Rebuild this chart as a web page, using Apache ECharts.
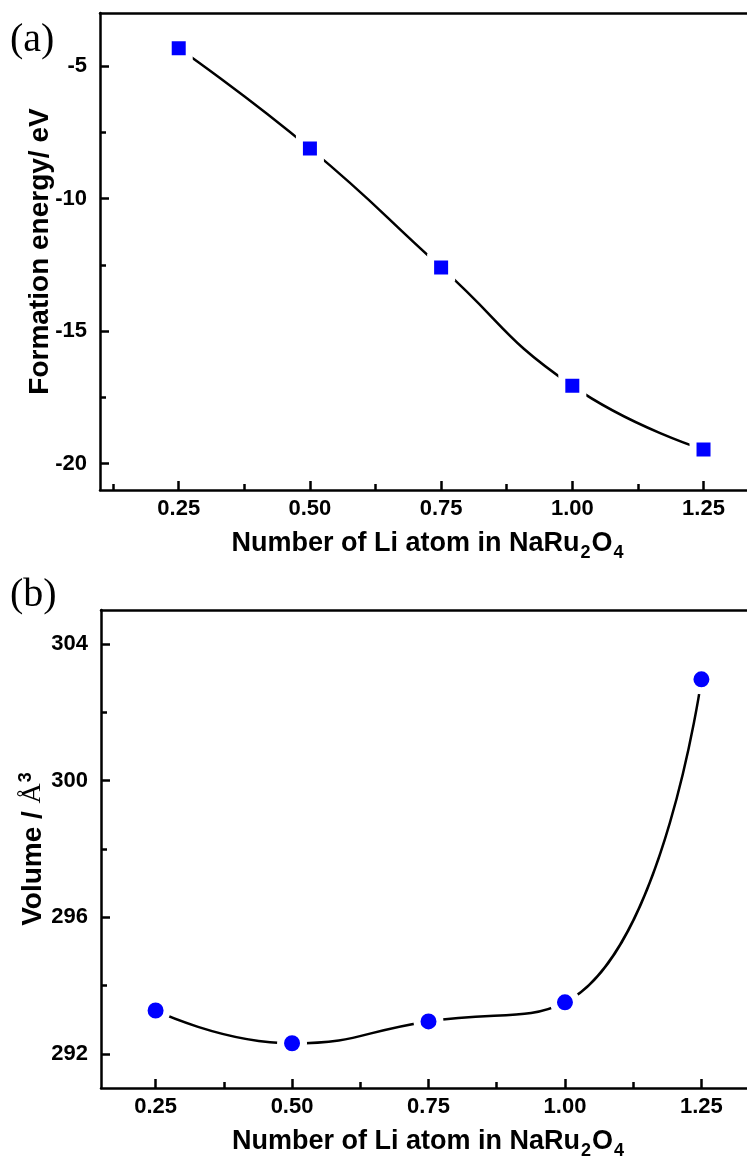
<!DOCTYPE html>
<html>
<head>
<meta charset="utf-8">
<script src="https://cdn.jsdelivr.net/npm/echarts@6/dist/echarts.min.js"></script>
<style>
html,body{margin:0;padding:0;background:#fff;overflow:hidden;}
#main{width:747px;height:1157px;}
</style>
</head>
<body>
<div id="main"></div>
<script>
// ---- data ----
const liAtoms = [0.25, 0.50, 0.75, 1.00, 1.25];
const formationEnergy = [-4.33, -8.11, -12.6, -17.07, -19.47];
const volume = [293.27, 292.31, 292.95, 293.51, 302.97];

const xMajorTicks = [0.25, 0.50, 0.75, 1.00, 1.25];
const xMinorTicksA = [0.125, 0.375, 0.625, 0.875, 1.125];
const xMinorTicksB = [0.375, 0.625, 0.875, 1.125];
const yMajorTicksA = [-20, -15, -10, -5];
const yMinorTicksA = [-17.5, -12.5, -7.5];
const yMajorTicksB = [292, 296, 300, 304];
const yMinorTicksB = [294, 298, 302];

const chart = echarts.init(document.getElementById('main'), null, {renderer: 'canvas'});

const FONT = '"Liberation Sans", Arial, sans-serif';
const SERIF = '"Liberation Serif", "Times New Roman", serif';
const LW = 2.5;

function mainX(gridIndex, min, max) {
  return {
    type: 'value', gridIndex: gridIndex, min: min, max: max, position: 'bottom',
    axisLine: {show: true, onZero: false, lineStyle: {color: '#000', width: LW}},
    axisTick: {show: true, inside: true, length: 9, customValues: xMajorTicks, lineStyle: {color: '#000', width: LW}},
    axisLabel: {show: true, margin: 8, customValues: xMajorTicks, formatter: v => v.toFixed(2),
      color: '#000', fontFamily: FONT, fontWeight: 'bold', fontSize: 22},
    splitLine: {show: false},
    name: '{a|Number of Li atom in NaRu}{s|2}{a|O}{s|4}',
    nameLocation: 'middle', nameGap: 36, nameMoveOverlap: false,
    nameTextStyle: {
      rich: {
        a: {fontFamily: FONT, fontSize: 27, color: '#000', fontWeight: 'bold'},
        s: {fontFamily: FONT, fontSize: 18, color: '#000', fontWeight: 'bold', padding: [18, 1, 0, 1]}
      }
    }
  };
}
function minorX(gridIndex, min, max, ticks) {
  return {
    type: 'value', gridIndex: gridIndex, min: min, max: max, position: 'bottom',
    axisLine: {show: false, onZero: false},
    axisTick: {show: true, inside: true, length: 6, customValues: ticks, lineStyle: {color: '#000', width: LW}},
    axisLabel: {show: false},
    splitLine: {show: false}
  };
}
function topX(gridIndex, min, max) {
  return {
    type: 'value', gridIndex: gridIndex, min: min, max: max, position: 'top',
    axisLine: {show: true, onZero: false, lineStyle: {color: '#000', width: LW}},
    axisTick: {show: false}, axisLabel: {show: false}, splitLine: {show: false}
  };
}
function mainY(gridIndex, min, max, ticks, name, rich, gap) {
  return {
    type: 'value', gridIndex: gridIndex, min: min, max: max, position: 'left',
    axisLine: {show: true, onZero: false, lineStyle: {color: '#000', width: LW}},
    axisTick: {show: true, inside: true, length: 9, customValues: ticks, lineStyle: {color: '#000', width: LW}},
    axisLabel: {show: true, margin: 13, customValues: ticks,
      color: '#000', fontFamily: FONT, fontWeight: 'bold', fontSize: 22},
    splitLine: {show: false},
    name: name, nameLocation: 'middle', nameGap: gap, nameRotate: 90, nameMoveOverlap: false,
    nameTextStyle: {rich: rich}
  };
}
function minorY(gridIndex, min, max, ticks) {
  return {
    type: 'value', gridIndex: gridIndex, min: min, max: max, position: 'left',
    axisLine: {show: false, onZero: false},
    axisTick: {show: true, inside: true, length: 6, customValues: ticks, lineStyle: {color: '#000', width: LW}},
    axisLabel: {show: false},
    splitLine: {show: false}
  };
}

const option = {
  backgroundColor: '#fff',
  animation: false,
  grid: [
    {left: 100, top: 13, width: 656, height: 477, outerBoundsMode: 'none', containLabel: false, show: false},
    {left: 101, top: 610, width: 655, height: 478, outerBoundsMode: 'none', containLabel: false, show: false}
  ],
  xAxis: [
    mainX(0, 0.1, 1.35),
    minorX(0, 0.1, 1.35, xMinorTicksA),
    mainX(1, 0.15, 1.35),
    minorX(1, 0.15, 1.35, xMinorTicksB),
    topX(0, 0.1, 1.35),
    topX(1, 0.15, 1.35)
  ],
  yAxis: [
    mainY(0, -21, -3, yMajorTicksA, '{a|Formation energy/ eV}',
      {a: {fontFamily: FONT, fontSize: 28, fontWeight: 'bold', color: '#000'}}, 46),
    minorY(0, -21, -3, yMinorTicksA),
    mainY(1, 291, 305, yMajorTicksB, '{a|Volume / }{b|Å}{c|3}',
      {a: {fontFamily: FONT, fontSize: 28, fontWeight: 'bold', color: '#000'},
       b: {fontFamily: SERIF, fontSize: 28, color: '#000'},
       c: {fontFamily: FONT, fontSize: 18, fontWeight: 'bold', color: '#000', padding: [0, 0, 14, 1]}}, 52),
    minorY(1, 291, 305, yMinorTicksB)
  ],
  series: [
    {
      type: 'line', xAxisIndex: 0, yAxisIndex: 0,
      data: liAtoms.map((x, i) => [x, formationEnergy[i]]),
      smooth: 0.5,
      symbol: 'rect', symbolSize: 21,
      itemStyle: {color: '#0000ff', borderColor: '#fff', borderWidth: 7},
      lineStyle: {color: '#000', width: 2.5},
      emphasis: {disabled: true}
    },
    {
      type: 'line', xAxisIndex: 2, yAxisIndex: 2,
      data: liAtoms.map((x, i) => [x, volume[i]]),
      smooth: 0.5,
      symbol: 'circle', symbolSize: 23,
      itemStyle: {color: '#0000ff', borderColor: '#fff', borderWidth: 7},
      lineStyle: {color: '#000', width: 2.5},
      emphasis: {disabled: true}
    }
  ],
  graphic: [
    {type: 'text', left: 10, top: 20, style: {text: '(a)', fontFamily: SERIF, fontSize: 40, fill: '#000'}},
    {type: 'text', left: 10, top: 575, style: {text: '(b)', fontFamily: SERIF, fontSize: 40, fill: '#000'}}
  ]
};
chart.setOption(option);
</script>
</body>
</html>
